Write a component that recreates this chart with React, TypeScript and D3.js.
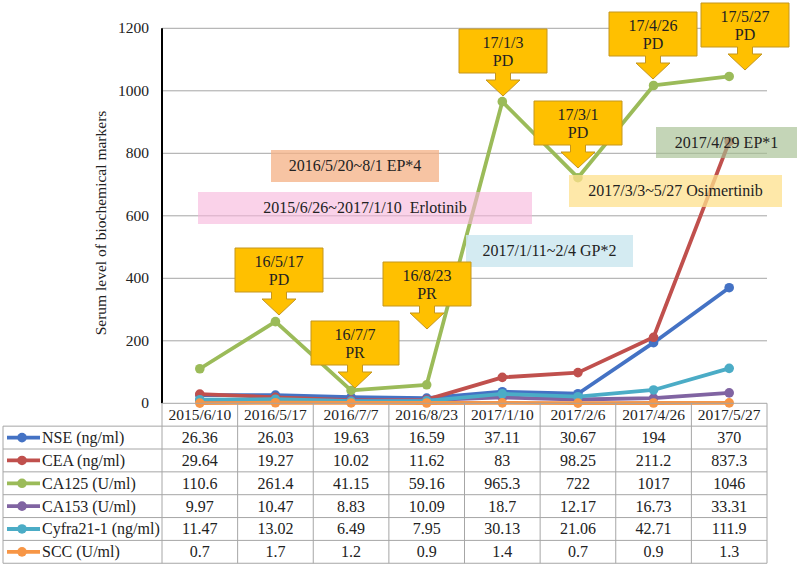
import React from "react";
import * as d3 from "d3";

const categories = ["2015/6/10", "2016/5/17", "2016/7/7", "2016/8/23", "2017/1/10", "2017/2/6", "2017/4/26", "2017/5/27"];
const seriesNames = ["NSE (ng/ml)", "CEA (ng/ml)", "CA125 (U/ml)", "CA153 (U/ml)", "Cyfra21-1 (ng/ml)", "SCC (U/ml)"];
const NSE = [26.36, 26.03, 19.63, 16.59, 37.11, 30.67, 194, 370];
const CEA = [29.64, 19.27, 10.02, 11.62, 83, 98.25, 211.2, 837.3];
const CA125 = [110.6, 261.4, 41.15, 59.16, 965.3, 722, 1017, 1046];
const CA153 = [9.97, 10.47, 8.83, 10.09, 18.7, 12.17, 16.73, 33.31];
const CYFRA = [11.47, 13.02, 6.49, 7.95, 30.13, 21.06, 42.71, 111.9];
const SCC = [0.7, 1.7, 1.2, 0.9, 1.4, 0.7, 0.9, 1.3];
const tableText = [
  ["26.36", "26.03", "19.63", "16.59", "37.11", "30.67", "194", "370"],
  ["29.64", "19.27", "10.02", "11.62", "83", "98.25", "211.2", "837.3"],
  ["110.6", "261.4", "41.15", "59.16", "965.3", "722", "1017", "1046"],
  ["9.97", "10.47", "8.83", "10.09", "18.7", "12.17", "16.73", "33.31"],
  ["11.47", "13.02", "6.49", "7.95", "30.13", "21.06", "42.71", "111.9"],
  ["0.7", "1.7", "1.2", "0.9", "1.4", "0.7", "0.9", "1.3"],
];
const yTicks = [0, 200, 400, 600, 800, 1000, 1200];
const colors = ["#4472C4", "#C0504D", "#9BBB59", "#8064A2", "#4BACC6", "#F79646"];

const calloutDates = ["16/5/17", "16/7/7", "16/8/23", "17/1/3", "17/3/1", "17/4/26", "17/5/27"];
const calloutStatus = ["PD", "PR", "PR", "PD", "PD", "PD", "PD"];
// layout: box left, box top
const calloutLayout = [
  [235, 248], [311, 321], [383, 262], [459, 29], [534, 101], [609, 12], [701, 3],
];

const treatmentLabels = ["2016/5/20~8/1 EP*4", "2015/6/26~2017/1/10  Erlotinib", "2017/1/11~2/4 GP*2", "2017/3/3~5/27 Osimertinib", "2017/4/29 EP*1"];
const treatmentLayout = [
  { x: 271, y: 150, w: 168, h: 32, fill: "rgba(244,176,132,0.75)" },
  { x: 198, y: 192, w: 334, h: 32, fill: "rgba(246,180,218,0.6)" },
  { x: 466, y: 235, w: 167, h: 32, fill: "rgba(205,232,240,0.85)" },
  { x: 569, y: 175, w: 213, h: 32, fill: "rgba(254,224,140,0.75)" },
  { x: 656, y: 127, w: 141, h: 31, fill: "rgba(165,190,145,0.65)" },
];

const FONT = '"Liberation Serif", "Times New Roman", monospace';

export default function App() {
  const W = 800, H = 567;
  const left = 162, right = 767, top = 28.3, bottom = 403.3;
  const series = [NSE, CEA, CA125, CA153, CYFRA, SCC];
  const x = d3.scaleBand<string>().domain(categories).range([left, right]);
  const y = d3.scaleLinear().domain([0, 1200]).range([bottom, top]);
  const line = d3.line<number>().x((_, i) => (x(categories[i]) as number) + x.bandwidth() / 2).y((d) => y(d));
  const rowH = 22.85;
  const tableLeft = 3;
  const gridColor = "#A6A6A6";
  const st = () => ({ fontFamily: FONT, whiteSpace: "pre" as const });

  const calloutPath = (bx: number, by: number) => {
    const w = 88, h = 44;
    const cx = bx + w / 2;
    const sw = 7.5, hw = 17, sh = 7, hh = 16;
    return `M${bx},${by}H${bx + w}V${by + h}H${cx + sw}V${by + h + sh}H${cx + hw}L${cx},${by + h + sh + hh}L${cx - hw},${by + h + sh}H${cx - sw}V${by + h}H${bx}Z`;
  };

  return (
    <svg width={W} height={H} style={{ position: "absolute", left: 0, top: 0, background: "#fff" }}>
      <style>{`svg text { font-family: "Liberation Serif", "Times New Roman", monospace; white-space: pre; }`}</style>
      {yTicks.filter((t) => t > 0).map((t) => (
        <line key={t} x1={left} x2={right} y1={y(t)} y2={y(t)} stroke={gridColor} strokeWidth={1} />
      ))}
      {yTicks.map((t) => (
        <text key={"t" + t} x={149} y={y(t) + 5} textAnchor="end" fontSize={15.5} fill="#222" style={st()}>{t}</text>
      ))}
      <text transform={`translate(106,223) rotate(-90)`} textAnchor="middle" fontSize={15.5} fill="#222" style={st()}>Serum level of biochemical markers</text>
      {series.map((s, si) => (
        <g key={si}>
          <path d={line(s) as string} fill="none" stroke={colors[si]} strokeWidth={3.8} strokeLinejoin="round" />
          {s.map((v, i) => (
            <circle key={i} cx={(x(categories[i]) as number) + x.bandwidth() / 2} cy={y(v)} r={4.8} fill={colors[si]} />
          ))}
        </g>
      ))}
      {treatmentLabels.map((lab, i) => {
        const L = treatmentLayout[i];
        return (
          <g key={lab}>
            <rect x={L.x} y={L.y} width={L.w} height={L.h} fill={L.fill} />
            <text x={L.x + L.w / 2} y={L.y + L.h / 2 + 5} textAnchor="middle" fontSize={16} fill="#222" style={st()}>{lab}</text>
          </g>
        );
      })}
      {calloutDates.map((d, i) => {
        const [bx, by] = calloutLayout[i];
        return (
          <g key={d}>
            <path d={calloutPath(bx, by)} fill="#FFC000" stroke="#C4961F" strokeWidth={1} />
            <text x={bx + 44} y={by + 18.5} textAnchor="middle" fontSize={16} fill="#222" style={st()}>{d}</text>
            <text x={bx + 44} y={by + 37} textAnchor="middle" fontSize={16} fill="#222" style={st()}>{calloutStatus[i]}</text>
          </g>
        );
      })}
      <line x1={left} x2={left} y1={top} y2={bottom} stroke="#000" strokeWidth={2} />
      <g>
        <line x1={left} x2={right} y1={bottom} y2={bottom} stroke={gridColor} />
        <line x1={tableLeft} x2={right} y1={bottom + rowH} y2={bottom + rowH} stroke={gridColor} />
        {seriesNames.map((_, r) => (
          <line key={"h" + r} x1={tableLeft} x2={right} y1={bottom + rowH * (r + 2)} y2={bottom + rowH * (r + 2)} stroke={gridColor} />
        ))}
        <line x1={tableLeft} x2={tableLeft} y1={bottom + rowH} y2={bottom + rowH * 7} stroke={gridColor} />
        {categories.map((c) => (
          <line key={"v" + c} x1={x(c) as number} x2={x(c) as number} y1={bottom} y2={bottom + rowH * 7} stroke={gridColor} />
        ))}
        <line x1={right} x2={right} y1={bottom} y2={bottom + rowH * 7} stroke={gridColor} />
        {categories.map((c) => (
          <text key={"c" + c} x={(x(c) as number) + x.bandwidth() / 2} y={bottom + rowH / 2 + 5.5} textAnchor="middle" fontSize={15.5} fill="#222" style={st()}>{c}</text>
        ))}
        {seriesNames.map((n, r) => {
          const cy = bottom + rowH * (r + 1) + rowH / 2;
          return (
            <g key={n}>
              <line x1={7} x2={40} y1={cy} y2={cy} stroke={colors[r]} strokeWidth={3.8} />
              <circle cx={22} cy={cy} r={4.8} fill={colors[r]} />
              <text x={42} y={cy + 5.5} fontSize={16} fill="#222" style={st()}>{n}</text>
              {tableText[r].map((t, i) => (
                <text key={i} x={(x(categories[i]) as number) + x.bandwidth() / 2} y={cy + 5.5} textAnchor="middle" fontSize={16} fill="#222" style={st()}>{t}</text>
              ))}
            </g>
          );
        })}
      </g>
    </svg>
  );
}
